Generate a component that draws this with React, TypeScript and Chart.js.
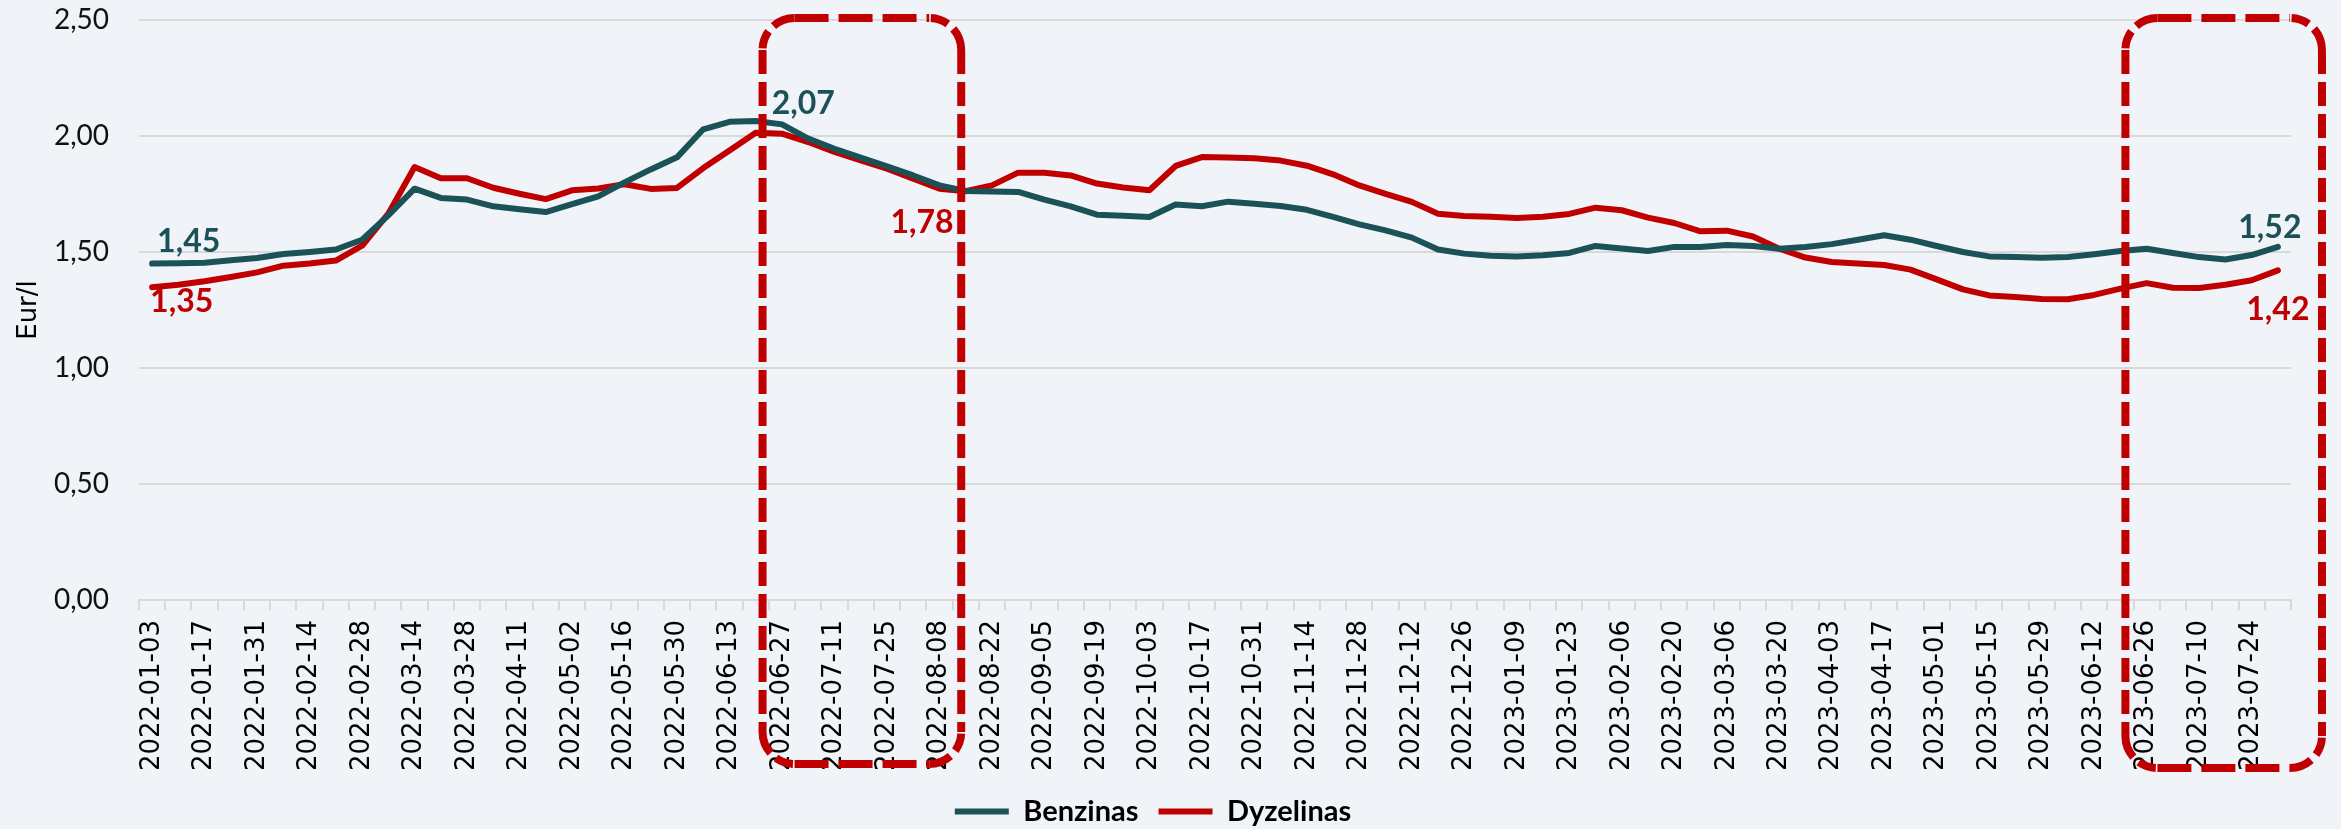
import React, { useEffect, useRef } from 'react';
import { Chart, registerables } from 'chart.js';

Chart.register(...registerables);

// ---------------- DATA ----------------
const dates: string[] = [
  '2022-01-03', '2022-01-10', '2022-01-17', '2022-01-24', '2022-01-31', '2022-02-07',
  '2022-02-14', '2022-02-21', '2022-02-28', '2022-03-07', '2022-03-14', '2022-03-21',
  '2022-03-28', '2022-04-04', '2022-04-11', '2022-04-25', '2022-05-02', '2022-05-09',
  '2022-05-16', '2022-05-23', '2022-05-30', '2022-06-06', '2022-06-13', '2022-06-20',
  '2022-06-27', '2022-07-04', '2022-07-11', '2022-07-18', '2022-07-25', '2022-08-01',
  '2022-08-08', '2022-08-15', '2022-08-22', '2022-08-29', '2022-09-05', '2022-09-12',
  '2022-09-19', '2022-09-26', '2022-10-03', '2022-10-10', '2022-10-17', '2022-10-24',
  '2022-10-31', '2022-11-07', '2022-11-14', '2022-11-21', '2022-11-28', '2022-12-05',
  '2022-12-12', '2022-12-19', '2022-12-26', '2023-01-02', '2023-01-09', '2023-01-16',
  '2023-01-23', '2023-01-30', '2023-02-06', '2023-02-13', '2023-02-20', '2023-02-27',
  '2023-03-06', '2023-03-13', '2023-03-20', '2023-03-27', '2023-04-03', '2023-04-10',
  '2023-04-17', '2023-04-24', '2023-05-01', '2023-05-08', '2023-05-15', '2023-05-22',
  '2023-05-29', '2023-06-05', '2023-06-12', '2023-06-19', '2023-06-26', '2023-07-03',
  '2023-07-10', '2023-07-17', '2023-07-24', '2023-07-31',
];

const benzinas: number[] = [
  1.450, 1.451, 1.454, 1.464, 1.474, 1.491, 1.500, 1.511, 1.553, 1.658,
  1.773, 1.733, 1.726, 1.697, 1.684, 1.672, 1.706, 1.740, 1.800, 1.856,
  1.908, 2.029, 2.061, 2.065, 2.050, 1.989, 1.945, 1.907, 1.869, 1.830,
  1.787, 1.763, 1.761, 1.759, 1.726, 1.697, 1.661, 1.656, 1.651, 1.705,
  1.697, 1.717, 1.708, 1.698, 1.682, 1.651, 1.619, 1.593, 1.562, 1.511,
  1.493, 1.484, 1.481, 1.486, 1.496, 1.526, 1.515, 1.504, 1.522, 1.522,
  1.530, 1.526, 1.514, 1.522, 1.534, 1.553, 1.572, 1.553, 1.526, 1.500,
  1.481, 1.478, 1.475, 1.478, 1.490, 1.504, 1.514, 1.496, 1.478, 1.468,
  1.487, 1.522,
];

const dyzelinas: number[] = [
  1.348, 1.359, 1.374, 1.392, 1.412, 1.441, 1.450, 1.463, 1.527, 1.665,
  1.866, 1.818, 1.818, 1.777, 1.751, 1.728, 1.766, 1.774, 1.792, 1.772,
  1.776, 1.862, 1.937, 2.014, 2.010, 1.974, 1.931, 1.895, 1.859, 1.816,
  1.773, 1.762, 1.787, 1.842, 1.842, 1.830, 1.795, 1.778, 1.766, 1.871,
  1.909, 1.907, 1.904, 1.894, 1.872, 1.835, 1.787, 1.751, 1.716, 1.665,
  1.655, 1.652, 1.647, 1.652, 1.664, 1.691, 1.680, 1.648, 1.625, 1.589,
  1.592, 1.567, 1.514, 1.476, 1.457, 1.450, 1.444, 1.424, 1.382, 1.339,
  1.313, 1.306, 1.297, 1.296, 1.315, 1.342, 1.366, 1.346, 1.345, 1.359,
  1.378, 1.421,
];

const seriesNames: string[] = ['Benzinas', 'Dyzelinas'];
const yTickValues: number[] = [0, 0.5, 1, 1.5, 2, 2.5];
const yAxisTitle = 'Eur/l';

// value call-outs shown on the chart (series index, point index, text)
const calloutSeries: number[] = [0, 1, 0, 1, 0, 1];
const calloutIndex: number[] = [0, 0, 23, 31, 81, 81];
const calloutText: string[] = ['1,45', '1,35', '2,07', '1,78', '1,52', '1,42'];

// highlighted periods (in category index units)
const highlightFrom: number[] = [23.26, 75.19];
const highlightTo: number[] = [30.83, 82.68];

// ---------------- STYLE ----------------
const TEAL = '#1A5258';
const RED = '#C00000';
const GRID = '#D9D9D9';
const BG = '#F0F4F8';

const calloutPlacement = [
  { dx: 5, dy: -12, align: 'left' },
  { dx: -2, dy: 25, align: 'left' },
  { dx: 16, dy: -7, align: 'left' },
  { dx: -12, dy: 42, align: 'right' },
  { dx: -8, dy: -9, align: 'center' },
  { dx: 0, dy: 50, align: 'center' },
];

const boxBottomOffset = [164, 168];

function drawDashedRoundRect(ctx: CanvasRenderingContext2D, l: number, t: number, r: number, b: number, rad: number) {
  ctx.save();
  ctx.strokeStyle = RED;
  ctx.lineWidth = 8;
  ctx.lineCap = 'butt';
  // vertical sides
  ctx.setLineDash([24, 8]);
  ctx.beginPath();
  ctx.moveTo(l, t + rad);
  ctx.lineTo(l, b - rad);
  ctx.moveTo(r, t + rad);
  ctx.lineTo(r, b - rad);
  ctx.stroke();
  // horizontal sides
  ctx.setLineDash([34, 10]);
  ctx.beginPath();
  ctx.moveTo(l + rad, t);
  ctx.lineTo(r - rad, t);
  ctx.moveTo(l + rad, b);
  ctx.lineTo(r - rad, b);
  ctx.stroke();
  // corners (two dashes each)
  ctx.setLineDash([]);
  const corners: [number, number, number][] = [
    [l + rad, t + rad, Math.PI],
    [r - rad, t + rad, 1.5 * Math.PI],
    [r - rad, b - rad, 0],
    [l + rad, b - rad, 0.5 * Math.PI],
  ];
  for (const [cx, cy, a0] of corners) {
    ctx.beginPath();
    ctx.arc(cx, cy, rad, a0 + 0.05, a0 + 0.62);
    ctx.stroke();
    ctx.beginPath();
    ctx.arc(cx, cy, rad, a0 + 0.85, a0 + Math.PI / 2);
    ctx.stroke();
  }
  ctx.restore();
}

const annotationPlugin = {
  id: 'annotations',
  beforeDraw(chart: any) {
    const lg = chart.legend;
    if (lg) {
      lg.left = 0;
      lg.right = 2306;
      const h = lg.height;
      lg.top = chart.height - h + 7;
      lg.bottom = lg.top + h;
    }
  },
  afterDraw(chart: any) {
    const ctx: CanvasRenderingContext2D = chart.ctx;
    const x = chart.scales.x;
    const y = chart.scales.y;
    // call-out labels
    ctx.save();
    ctx.font = 'bold 32px Lato';
    ctx.textBaseline = 'alphabetic';
    calloutText.forEach((txt, k) => {
      const s = calloutSeries[k];
      const el = chart.getDatasetMeta(s).data[calloutIndex[k]];
      const p = calloutPlacement[k];
      ctx.fillStyle = s === 0 ? TEAL : RED;
      ctx.textAlign = p.align as CanvasTextAlign;
      ctx.fillText(txt, el.x + p.dx, el.y + p.dy);
    });
    ctx.restore();
    // highlighted periods
    highlightFrom.forEach((from, k) => {
      const l = x.getPixelForValue(from);
      const r = x.getPixelForValue(highlightTo[k]);
      const t = y.getPixelForValue(2.5) - 2;
      const b = chart.chartArea.bottom + boxBottomOffset[k];
      drawDashedRoundRect(ctx, l, t, r, b, 32);
    });
  },
};

export default function App() {
  const canvasRef = useRef<HTMLCanvasElement>(null);

  useEffect(() => {
    document.body.style.margin = '0';
    const canvas = canvasRef.current;
    if (!canvas) return;
    const chart = new Chart(canvas, {
      type: 'line',
      data: {
        labels: dates,
        datasets: [
          {
            label: seriesNames[0],
            data: benzinas,
            borderColor: TEAL,
            backgroundColor: TEAL,
            borderWidth: 6,
            pointRadius: 0,
            tension: 0,
            borderJoinStyle: 'round',
            borderCapStyle: 'round',
          },
          {
            label: seriesNames[1],
            data: dyzelinas,
            borderColor: RED,
            backgroundColor: RED,
            borderWidth: 6,
            pointRadius: 0,
            tension: 0,
            borderJoinStyle: 'round',
            borderCapStyle: 'round',
          },
        ],
      },
      options: {
        responsive: false,
        devicePixelRatio: 1,
        animation: false,
        layout: { padding: { top: 20, right: 50, left: 0, bottom: 0 } },
        plugins: {
          tooltip: { enabled: false },
          legend: {
            position: 'bottom',
            labels: {
              usePointStyle: true,
              pointStyle: 'line',
              pointStyleWidth: 54,
              padding: 20,
              color: '#000',
              font: { family: 'Lato', size: 29, weight: 'bold' },
            },
          },
        },
        scales: {
          x: {
            type: 'category',
            offset: true,
            grid: {
              offset: true,
              drawOnChartArea: false,
              drawTicks: true,
              tickLength: 10,
              color: GRID,
              lineWidth: 2,
            },
            border: { display: true, color: GRID, width: 2 },
            ticks: {
              autoSkip: false,
              minRotation: 90,
              maxRotation: 90,
              padding: 10,
              color: '#000',
              font: { family: 'DejaVu Sans', size: 26 },
              callback: (_v: any, i: number) => (i % 2 === 0 ? dates[i] : ''),
            },
            afterFit: (s: any) => {
              s.height = 170;
            },
          },
          y: {
            min: 0,
            max: 2.5,
            afterBuildTicks: (s: any) => {
              s.ticks = yTickValues.map((v) => ({ value: v }));
            },
            grid: { color: GRID, lineWidth: 2, drawTicks: false },
            border: { display: false },
            ticks: {
              padding: 30,
              color: '#111',
              font: { family: 'Lato', size: 28 },
              callback: (v: any) => Number(v).toFixed(2).replace('.', ','),
            },
            title: {
              display: true,
              text: yAxisTitle,
              color: '#000',
              padding: { top: 14, bottom: 0 },
              font: { family: 'DejaVu Sans', size: 26 },
            },
            afterFit: (s: any) => {
              s.width = 139;
              s.paddingTop = 0;
              s.paddingBottom = 0;
            },
          },
        },
      },
      plugins: [annotationPlugin],
    } as any);
    return () => chart.destroy();
  }, []);

  return (
    <div style={{ position: 'absolute', left: 0, top: 0, width: 2341, height: 829, background: BG }}>
      <canvas ref={canvasRef} width={2341} height={829} style={{ display: 'block' }} />
    </div>
  );
}
